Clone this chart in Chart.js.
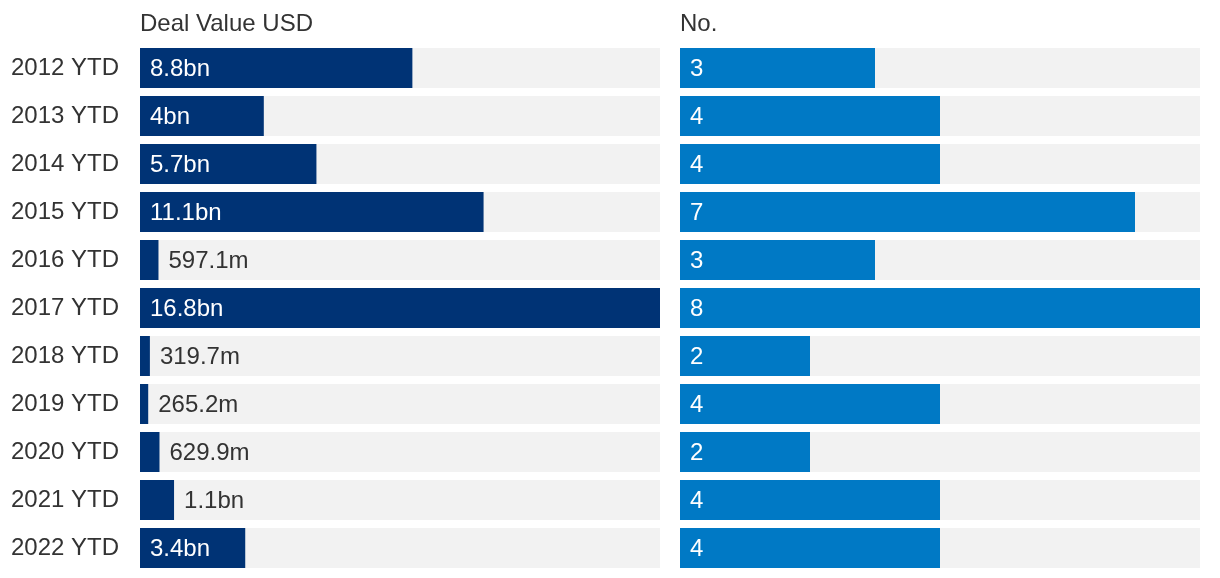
<!DOCTYPE html>
<html>
<head>
<meta charset="utf-8">
<script src="https://cdn.jsdelivr.net/npm/chart.js@4/dist/chart.umd.min.js"></script>
<style>
  html, body { margin: 0; padding: 0; background: #fff; }
  #wrap { position: relative; width: 1220px; height: 578px; }
  .box { position: absolute; top: 0; height: 578px; }
</style>
</head>
<body>
<div id="wrap">
  <div class="box" style="left:0;width:660px"><canvas id="valueChart"></canvas></div>
  <div class="box" style="left:660px;width:560px"><canvas id="countChart"></canvas></div>
</div>
<script>
const years = ['2012 YTD', '2013 YTD', '2014 YTD', '2015 YTD', '2016 YTD', '2017 YTD',
  '2018 YTD', '2019 YTD', '2020 YTD', '2021 YTD', '2022 YTD'];
// deal value in USD bn
const dealValues = [8.8, 4, 5.7, 11.1, 0.5971, 16.8, 0.3197, 0.2652, 0.6299, 1.1, 3.4];
const dealLabels = ['8.8bn', '4bn', '5.7bn', '11.1bn', '597.1m', '16.8bn', '319.7m', '265.2m', '629.9m', '1.1bn', '3.4bn'];
const dealCounts = [3, 4, 4, 7, 3, 8, 2, 4, 2, 4, 4];

const FONT = '"Liberation Sans", Arial, sans-serif';
Chart.defaults.font.family = FONT;
Chart.defaults.font.size = 24;
Chart.defaults.color = '#333333';

// title above the plot + value text on each bar
const barText = {
  id: 'barText',
  afterDatasetsDraw(chart, args, opts) {
    const ctx = chart.ctx;
    ctx.save();
    ctx.font = '24px ' + FONT;
    ctx.textBaseline = 'middle';
    ctx.textAlign = 'left';
    ctx.fillStyle = '#333333';
    ctx.fillText(opts.title, chart.chartArea.left, 24);
    const meta = chart.getDatasetMeta(0);
    meta.data.forEach((bar, i) => {
      const txt = opts.labels[i];
      const w = ctx.measureText(txt).width;
      const len = bar.x - bar.base;
      if (w + 20 <= len) {
        ctx.fillStyle = '#ffffff';
        ctx.fillText(txt, bar.base + 10, bar.y + 1);
      } else {
        ctx.fillStyle = '#333333';
        ctx.fillText(txt, bar.x + 10, bar.y + 1);
      }
    });
    ctx.restore();
  }
};

function makeChart(id, values, labels, title, color, showYears, padLeft, padRight) {
  const max = Math.max(...values);
  return new Chart(document.getElementById(id), {
    type: 'bar',
    data: {
      labels: years,
      datasets: [
        { data: values, backgroundColor: color },
        { data: values.map(() => max), backgroundColor: '#f2f2f2' }
      ]
    },
    plugins: [barText],
    options: {
      indexAxis: 'y',
      responsive: true,
      maintainAspectRatio: false,
      animation: false,
      layout: { padding: { top: 44, bottom: 6, left: padLeft, right: padRight } },
      datasets: { bar: { grouped: false, barPercentage: 40 / 48, categoryPercentage: 1, borderWidth: 0 } },
      plugins: {
        legend: { display: false },
        tooltip: { enabled: false },
        barText: { title: title, labels: labels }
      },
      scales: {
        x: { display: false, min: 0, max: max },
        y: {
          display: showYears,
          grid: { display: false, drawTicks: false },
          border: { display: false },
          ticks: { padding: 21, font: { size: 24 }, color: '#333333' },
          afterFit: (axis) => {
            if (!showYears) return;
            axis.width = 140;
            axis.paddingTop = 0;
            axis.paddingBottom = 0;
          }
        }
      }
    }
  });
}

makeChart('valueChart', dealValues, dealLabels, 'Deal Value USD', '#003375', true, 0, 0);
makeChart('countChart', dealCounts, dealCounts.map(String), 'No.', '#0079c5', false, 20, 20);
</script>
</body>
</html>
